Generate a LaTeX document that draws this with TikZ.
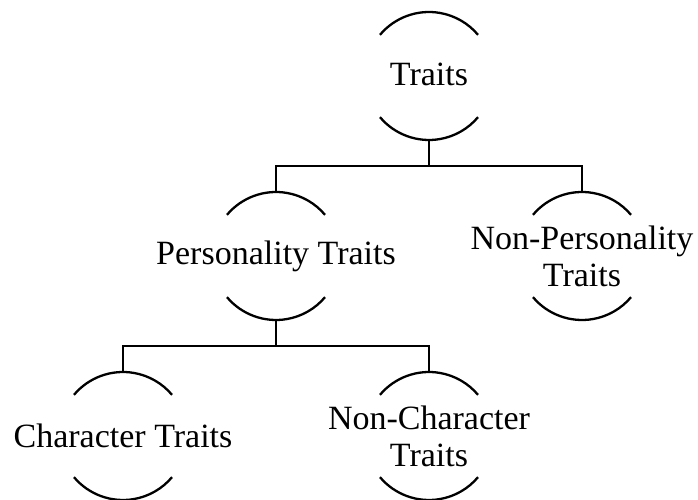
\documentclass[tikz,border=0pt]{standalone}
\usepackage{fontspec}
\setmainfont{Liberation Serif}
\begin{document}
\begin{tikzpicture}[x=1pt,y=1pt,
  lbl/.style={align=center,inner sep=0pt,font=\fontsize{34}{37}\selectfont},
  wire/.style={line width=2.3pt}]
\useasboundingbox (0,0) rectangle (698,500);
\node[lbl] (t)  at (429,426) {Traits};
\node[lbl] (p)  at (276,244) {Personality Traits};
\node[lbl] (np) at (582,244) {Non-Personality\\Traits};
\node[lbl] (c)  at (123,64)  {Character Traits};
\node[lbl] (nc) at (429,64)  {Non-Character\\Traits};
\foreach \n/\cy in {t/424,p/244,np/244,c/64,nc/64}{
  \coordinate (\n-ctr) at (\n.center |- 0,\cy);
  \draw[wire] ([shift={(140:64)}]\n-ctr) arc[start angle=140,end angle=40,radius=64];
  \draw[wire] ([shift={(220:64)}]\n-ctr) arc[start angle=220,end angle=320,radius=64];
  \coordinate (\n-top) at ([yshift=64]\n-ctr);
  \coordinate (\n-bot) at ([yshift=-64]\n-ctr);
}
\coordinate (j1) at (429,334);
\coordinate (j2) at (276,154);
\draw[wire] (t-bot) -- (j1);
\draw[wire] (p-top) |- (j1) -| (np-top);
\draw[wire] (p-bot) -- (j2);
\draw[wire] (c-top) |- (j2) -| (nc-top);
\end{tikzpicture}
\end{document}
